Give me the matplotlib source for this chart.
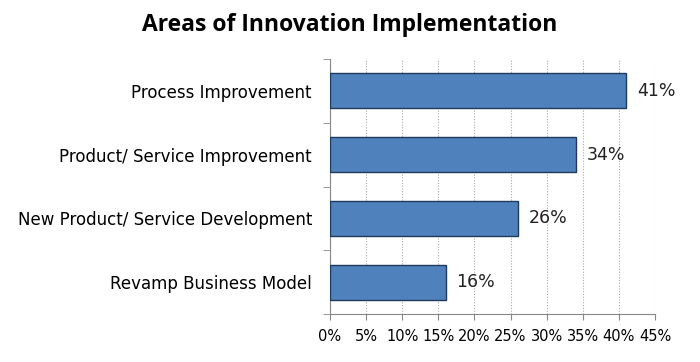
import matplotlib
matplotlib.use("Agg")
import matplotlib.pyplot as plt
from matplotlib.ticker import FuncFormatter

categories = ["Process Improvement", "Product/ Service Improvement",
              "New Product/ Service Development", "Revamp Business Model"]
values = [41, 34, 26, 16]
xticks = [0, 5, 10, 15, 20, 25, 30, 35, 40, 45]

fig = plt.figure(figsize=(7.0, 3.62), dpi=100)
ax = fig.add_axes([0.4714, 0.1326, 0.4643, 0.7044])

ypos = list(range(len(categories)))[::-1]
ax.barh(ypos, values, height=0.55, color="#4F81BD", edgecolor="#1F3A5F", linewidth=1.0, zorder=3)
for y, v in zip(ypos, values):
    ax.text(v + 1.5, y, f"{v}%", va="center", ha="left", fontsize=12.5, color="#222222")

ax.set_xlim(0, 45)
ax.set_ylim(-0.5, 3.5)
ax.set_xticks(xticks)
ax.xaxis.set_major_formatter(FuncFormatter(lambda x, p: f"{int(x)}%"))
ax.set_yticks(ypos)
ax.set_yticklabels(categories, fontsize=12)
ax.set_yticks([-0.5, 0.5, 1.5, 2.5, 3.5], minor=True)
ax.tick_params(axis="y", which="major", length=0, pad=13)
ax.tick_params(axis="y", which="minor", length=5, color="#888888", direction="out")
ax.tick_params(axis="x", length=4, color="#888888", labelsize=10.5, pad=7)
ax.grid(axis="x", linestyle=(0, (1, 1.5)), color="#AAAAAA", linewidth=0.8, zorder=0)
for s in ["top", "right"]:
    ax.spines[s].set_visible(False)
for s in ["left", "bottom"]:
    ax.spines[s].set_color("#888888")

fig.suptitle("Areas of Innovation Implementation", x=0.5, y=0.965, fontsize=16.5,
             fontweight="bold", family="Open Sans")
fig.savefig("out.png", dpi=100, facecolor="white")
